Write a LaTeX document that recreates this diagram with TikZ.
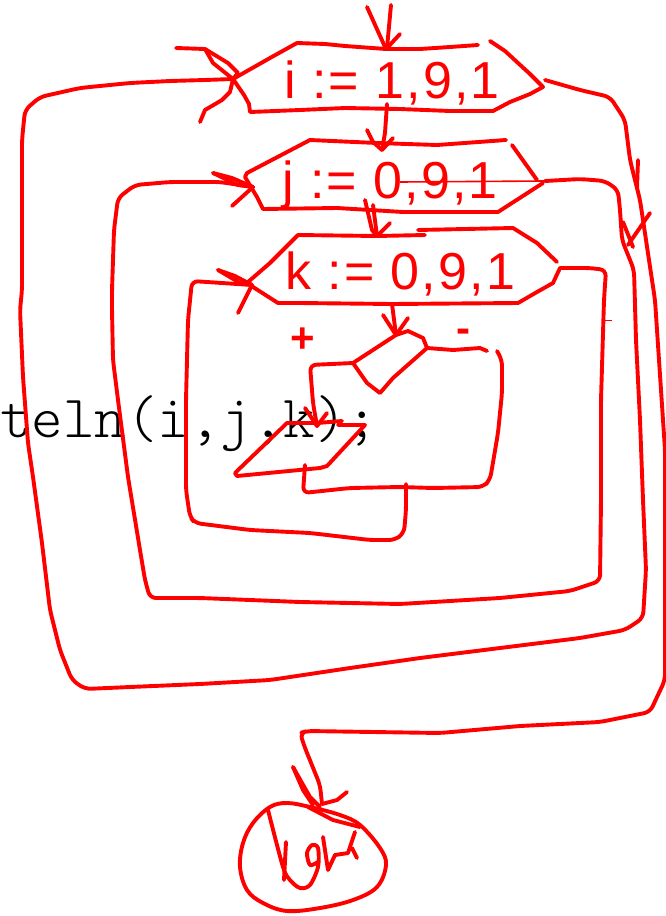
\documentclass[tikz,border=0pt]{standalone}
\usepackage{fontspec}
\setmainfont{Liberation Sans}
\newfontfamily\inkfont[LetterSpace=4]{Liberation Sans}
\tikzset{
  ink/.style={draw=red,line width=3.9pt,line join=round,line cap=round,rounded corners=6pt},
  sharpink/.style={draw=red,line width=3.9pt,line join=round,line cap=round},
  hand/.style={text=red,inner sep=0pt,anchor=base,font=\inkfont\fontsize{52}{52}\selectfont},
  sign/.style={text=red,inner sep=0pt,font=\bfseries\fontsize{42}{42}\selectfont},
  code/.style={text=black,inner sep=0pt,anchor=base west,font=\ttfamily\fontseries{l}\fontsize{60}{60}\selectfont}
}
\begin{document}
\begin{tikzpicture}[x=1pt,y=-1pt]
\useasboundingbox (0,0) rectangle (665,916);
% named junctions
\coordinate (start) at (391,5);
\coordinate (iL) at (233,79);
\coordinate (iT) at (387,48);
\coordinate (iB) at (387,104);
\coordinate (iR) at (545,80);
\coordinate (jL) at (253,187);
\coordinate (jT) at (382,150);
\coordinate (jB) at (373,205);
\coordinate (jR) at (545,181);
\coordinate (kL) at (252,285);
\coordinate (kT) at (377,236);
\coordinate (kB) at (392,304);
\coordinate (kR) at (565,268);
\coordinate (dT) at (396,335);
\coordinate (dL) at (353,363);
\coordinate (dR) at (427,348);
\coordinate (pT) at (317,426);
\coordinate (pB) at (305,465);
\coordinate (mJ) at (406,484);
\coordinate (eT) at (322,804);
% code text (under the ink)
\node[code] (codetext) at (0,437) {teln(i,j,k);};
% loop header i
\draw[sharpink] (iL) -- (270,58) -- (297,43) -- (325,44) -- (345,46) -- (386,49) -- (420,49) -- (450,47) -- (478,45);
\draw[sharpink] (490,41) -- (505,51) -- (518,63) -- (530,74) -- (543,87) -- (530,94) -- (510,102) -- (493,111) -- (450,111) -- (400,109) -- (345,108) -- (300,110) -- (250,112) -- (249,104) -- (244,95) -- (iL);
% header j
\draw[sharpink] (506,140) -- (437,145) -- (377,143) -- (310,140) -- (247,173) -- (245,177) -- (257,197) -- (263,209) -- (337,208) -- (403,212) -- (498,212) -- (543,183);
\draw[sharpink] (512,145) -- (537,180);
\draw[draw=red,line width=1.6pt] (400,182) -- (jR);
% header k
\draw[sharpink] (425,235) -- (kT) -- (298,235) -- (270,263) -- (248,282) -- (253,287) -- (278,303) -- (300,303) -- (kB) -- (518,303) -- (537,292) -- (553,283) -- (560,268) -- (kR);
\draw[sharpink] (418,230) -- (513,228) -- (537,243) -- (557,262);
% decision
\draw[sharpink] (dT) -- (dL) -- (367,383) -- (380,393) -- (393,378) -- (dR) -- (423,338) -- (408,331) -- (dT);
% output block
\draw[sharpink] (342,421) -- (317,423) -- (287,423) -- (235,473) -- (237,476) -- (320,468) -- (327,466) -- (365,425) -- (338,425);
% header texts
\node[hand] (ti) at (392,98) {i := 1,9,1};
\node[hand] (tj) at (390,198) {j := 0,9,1};
\node[hand] (tk) at (400,289) {k := 0,9,1};
\node[sign] (plus) at (303,340) {+};
\node[sign] (minus) at (463,336) {-};
\draw[draw=red,line width=1pt] (603,320) -- (612,320);
% entry arrow
\draw[sharpink] (start) -- (iT);
\draw[sharpink] (367,7) -- (385,47) -- (iT) -- (400,34);
% i to j
\draw[sharpink] (iB) -- (385,133) -- (jT);
\draw[sharpink] (367,130) -- (373,142) -- (jT) -- (393,138);
% j to k
\draw[sharpink] (jB) -- (kT);
\draw[sharpink] (365,200) -- (372,230) -- (kT) -- (390,223);
% k to decision
\draw[sharpink] (kB) -- (dT);
\draw[sharpink] (383,315) -- (dT) -- (408,318);
% decision plus
\draw[ink] (dL) -- (310,365) -- (313,403) -- (pT);
\draw[sharpink] (305,408) -- (pT) -- (327,413);
% decision minus
\draw[sharpink] (dR) -- (453,350) -- (480,348) -- (487,351);
\draw[ink] (497,351) -- (502,360) -- (502,393) -- (498,433) -- (490,480) -- (483,487) -- (433,488) -- (400,487) -- (350,488) -- (303,493) -- (pB);
% inner return
\draw[ink] (mJ) -- (406,510) -- (404,533) -- (395,540) -- (370,540) -- (310,533) -- (250,530) -- (195,523) -- (190,517) -- (186,490) -- (186,400) -- (188,320) -- (192,281) -- (kL);
\draw[sharpink] (218,270) -- (235,276) -- (kL) -- (238,313);
\draw[sharpink] (218,270) -- (240,283) -- (kL);
% k exit return to j
\draw[ink] (kR) -- (590,268) -- (606,270) -- (604,300) -- (601,400) -- (601,500) -- (600,581) -- (570,591) -- (500,598) -- (400,604) -- (300,602) -- (200,598) -- (150,598) -- (145,580) -- (140,550) -- (128,477) -- (118,400) -- (113,360) -- (112,310) -- (112,290) -- (114,230) -- (118,198) -- (135,185) -- (170,182) -- (220,182) -- (jL);
\draw[sharpink] (213,173) -- (232,178) -- (jL) -- (232,206);
\draw[sharpink] (213,173) -- (238,185) -- (jL);
% j exit return to i
\draw[ink] (jR) -- (580,179) -- (605,181) -- (618,190) -- (620,210) -- (622,240) -- (634,270) -- (636,340) -- (640,420) -- (643,500) -- (646,570) -- (643,618) -- (625,630) -- (580,638) -- (500,648) -- (420,658) -- (350,668) -- (270,680) -- (200,684) -- (130,687) -- (85,689) -- (72,680) -- (60,650) -- (50,610) -- (42,543) -- (33,477) -- (28,443) -- (23,377) -- (20,310) -- (22,290) -- (22,140) -- (25,110) -- (40,97) -- (80,88) -- (130,83) -- (170,81) -- (205,80) -- (iL);
\draw[sharpink] (176,48) -- (205,49) -- (213,63) -- (iL);
\draw[sharpink] (205,49) -- (228,63) -- (238,73) -- (iL) -- (230,92) -- (222,100) -- (205,110) -- (200,122);
% i exit
\draw[ink] (iR) -- (580,90) -- (610,97) -- (625,120) -- (630,160) -- (640,200) -- (655,300) -- (665,450) -- (665,680) -- (650,712) -- (600,722) -- (520,726) -- (440,733) -- (307,731) -- (300,733) -- (305,748) -- (320,785) -- (eT);
\draw[sharpink] (638,160) -- (637,188);
\draw[sharpink] (623,222) -- (633,247);
\draw[sharpink] (650,213) -- (628,245);
% terminal
\draw[sharpink] plot[smooth cycle,tension=0.6] coordinates {(270,807) (287,803) (310,807) (340,815) (360,825) (380,848) (386,865) (377,887) (353,900) (320,908) (287,911) (263,903) (247,890) (240,867) (243,843) (253,823)};
\draw[sharpink] (293,767) -- (310,797) -- (320,807);
\draw[sharpink] (293,767) -- (303,790) -- (313,805);
\draw[sharpink] (347,792) -- (337,800) -- (eT);
\draw[sharpink] (308,807) -- (333,820) -- (360,827);
\draw[sharpink] plot[smooth,tension=0.5] coordinates {(268,810) (283,867) (290,880) (300,888) (310,885) (318,867) (318,848) (312,845) (307,853) (310,865) (318,862)};
\draw[sharpink] (286,842) -- (284,880);
\draw[sharpink] (323,837) -- (328,870) -- (335,855) -- (348,853) -- (355,832);
\draw[sharpink] (352,848) -- (357,858);
\end{tikzpicture}
\end{document}
